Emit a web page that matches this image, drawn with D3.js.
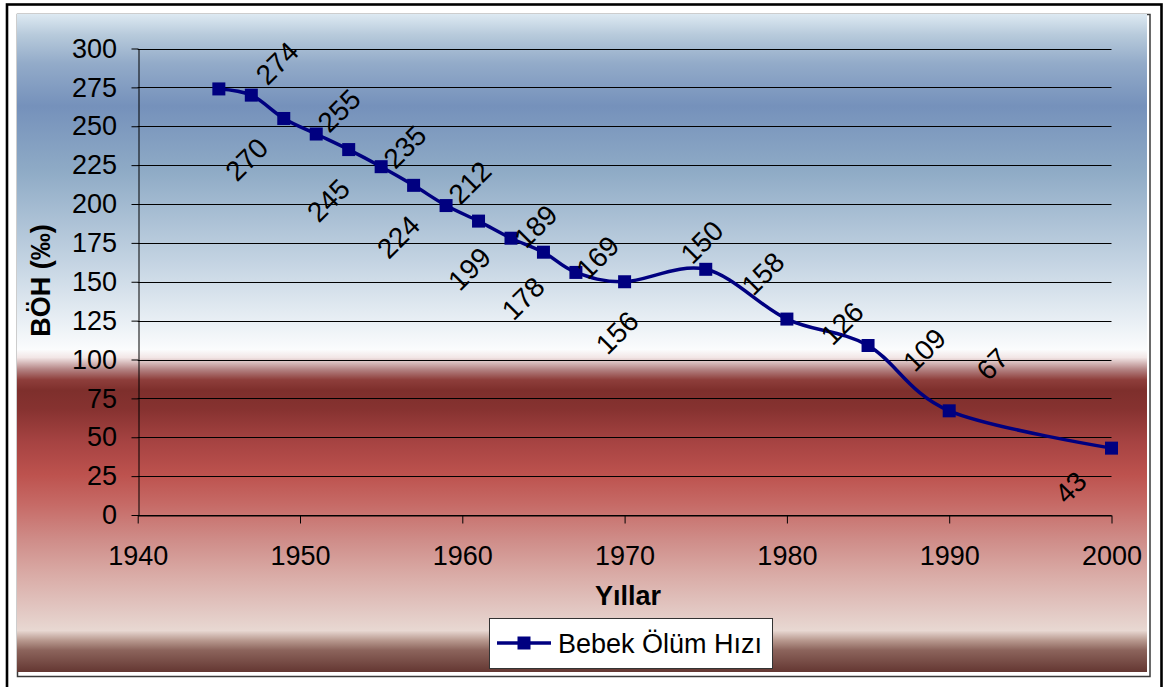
<!DOCTYPE html>
<html><head><meta charset="utf-8">
<script src="https://cdn.jsdelivr.net/npm/d3@7"></script>
<style>
body{margin:0;background:#fff}
svg text{font-family:"Liberation Sans",Arial,Helvetica,sans-serif}
</style>
</head><body>
<svg id="c" width="1165" height="687"></svg>
<script>
// ---- data ----
const years  = [1945,1947,1949,1951,1953,1955,1957,1959,1961,1963,1965,1967,1970,1975,1980,1985,1990,2000];
const values = [274,270,255,245,235,224,212,199,189,178,169,156,150,158,126,109,67,43];
const xTicks = [1940,1950,1960,1970,1980,1990,2000];
const yTicks = [0,25,50,75,100,125,150,175,200,225,250,275,300];
const seriesName = "Bebek Ölüm Hızı";
const xTitle = "Yıllar";
const yTitle = "BÖH (‰)";
// layout only: manual data-label placement offsets (px) relative to each point
const labelOffsets = [[58,-26],[-5,64],[55,-8],[12,66],[56,-3],[17,70],[56,-3],[23,63],[57,5],[12,60],[54,5],[41,60],[77,-40],[57,4],[55,4],[56,4],[43,-47],[-41,39]];

const svg = d3.select("#c");
const FS = 27;
const LFS = 28;
const navy = "#000080";

// outer frame
svg.append("rect").attr("x",7).attr("y",4.5).attr("width",1154.5).attr("height",720)
  .attr("fill","#fff").attr("stroke","#000").attr("stroke-width",2.6);

// gradient
const defs = svg.append("defs");
const g = defs.append("linearGradient").attr("id","bg").attr("x1",0).attr("y1",0).attr("x2",0).attr("y2",1);
const stops = [
  [0,"#dde9f2"],[0.032,"#b7cadb"],[0.075,"#93abc9"],[0.14,"#7591bb"],[0.24,"#8fabc6"],[0.375,"#c3d3e2"],
  [0.47,"#eaf0f5"],[0.51,"#fbfcfd"],[0.522,"#f2e6e6"],[0.54,"#b48484"],[0.556,"#8e3e3b"],[0.572,"#7e2f2c"],
  [0.6,"#863230"],[0.65,"#a64342"],[0.7,"#bd524e"],[0.745,"#c66a66"],[0.8,"#cf8d89"],[0.85,"#d9aaa5"],
  [0.905,"#e2c7c2"],[0.937,"#e8d8d2"],[0.952,"#b8998f"],[0.967,"#8c645c"],[1,"#643732"]
];
stops.forEach(s=>g.append("stop").attr("offset",s[0]).attr("stop-color",s[1]));

svg.append("rect").attr("x",17.5).attr("y",14.5).attr("width",1132.5).attr("height",662)
  .attr("fill","#fff").attr("stroke","#3a3a3a").attr("stroke-width",1.5);
svg.append("rect").attr("x",17).attr("y",14).attr("width",1130).attr("height",658).attr("fill","url(#bg)");

// scales
const x = d3.scaleLinear().domain([1940,2000]).range([137.7,1111.5]);
const y = d3.scaleLinear().domain([0,300]).range([515,48.5]);

// gridlines
svg.append("g").selectAll("line").data(yTicks).join("line")
  .attr("x1",x(1940)).attr("x2",x(2000))
  .attr("y1",d=>Math.round(y(d))+0.5).attr("y2",d=>Math.round(y(d))+0.5)
  .attr("stroke","#000").attr("stroke-width",1);

// y axis
const ya = svg.append("g").attr("transform",`translate(${Math.round(x(1940))+0.5},0)`)
  .call(d3.axisLeft(y).tickValues(yTicks).tickSize(7).tickPadding(14.5).tickSizeOuter(0));
ya.selectAll("text").attr("font-size",FS).attr("fill","#000").attr("font-family",null);
ya.selectAll("line,path").attr("stroke","#000");

// x axis
const xa = svg.append("g").attr("transform",`translate(0,${Math.round(y(0))+0.5})`)
  .call(d3.axisBottom(x).tickValues(xTicks).tickFormat(d3.format("d")).tickSize(8).tickPadding(22.8).tickSizeOuter(0));
xa.selectAll("text").attr("font-size",FS).attr("fill","#000").attr("font-family",null);
xa.selectAll("line,path").attr("stroke","#000");
svg.selectAll(".domain").attr("stroke-width",1);

// line
const pts = years.map((yr,i)=>({yr, v:values[i], i}));
svg.append("path").datum(pts)
  .attr("d", d3.line().x(d=>x(d.yr)).y(d=>y(d.v)).curve(d3.curveCatmullRom.alpha(0)))
  .attr("fill","none").attr("stroke",navy).attr("stroke-width",3.5);

// markers
const ms = 13;
svg.append("g").selectAll("rect").data(pts).join("rect")
  .attr("x",d=>x(d.yr)-ms/2).attr("y",d=>y(d.v)-ms/2).attr("width",ms).attr("height",ms)
  .attr("fill",navy);

// data labels
svg.append("g").selectAll("text").data(pts).join("text")
  .each(function(d){
    const cx = x(d.yr)+labelOffsets[d.i][0], cy = y(d.v)+labelOffsets[d.i][1];
    d3.select(this).attr("x",cx).attr("y",cy).attr("transform",`rotate(-45,${cx},${cy})`);
  })
  .attr("text-anchor","middle").attr("dy","0.36em")
  .attr("font-size",LFS).attr("fill","#000").text(d=>d.v);

// axis titles
svg.append("text").attr("x",628).attr("y",605).attr("text-anchor","middle")
  .attr("font-size",FS).attr("font-weight","bold").text(xTitle);
svg.append("text").attr("transform","translate(50,280.5) rotate(-90)").attr("text-anchor","middle")
  .attr("font-size",FS).attr("font-weight","bold").text(yTitle);

// legend
const lg = svg.append("g");
lg.append("rect").attr("x",489.5).attr("y",618.5).attr("width",283).attr("height",50)
  .attr("fill","#fff").attr("stroke","#333").attr("stroke-width",1);
lg.append("line").attr("x1",497).attr("x2",551).attr("y1",643).attr("y2",643)
  .attr("stroke",navy).attr("stroke-width",3.5);
lg.append("rect").attr("x",524-ms/2).attr("y",643-ms/2).attr("width",ms).attr("height",ms).attr("fill",navy);
lg.append("text").attr("x",558).attr("y",652.5).attr("font-size",FS).attr("fill","#000").text(seriesName);
</script>
</body></html>
